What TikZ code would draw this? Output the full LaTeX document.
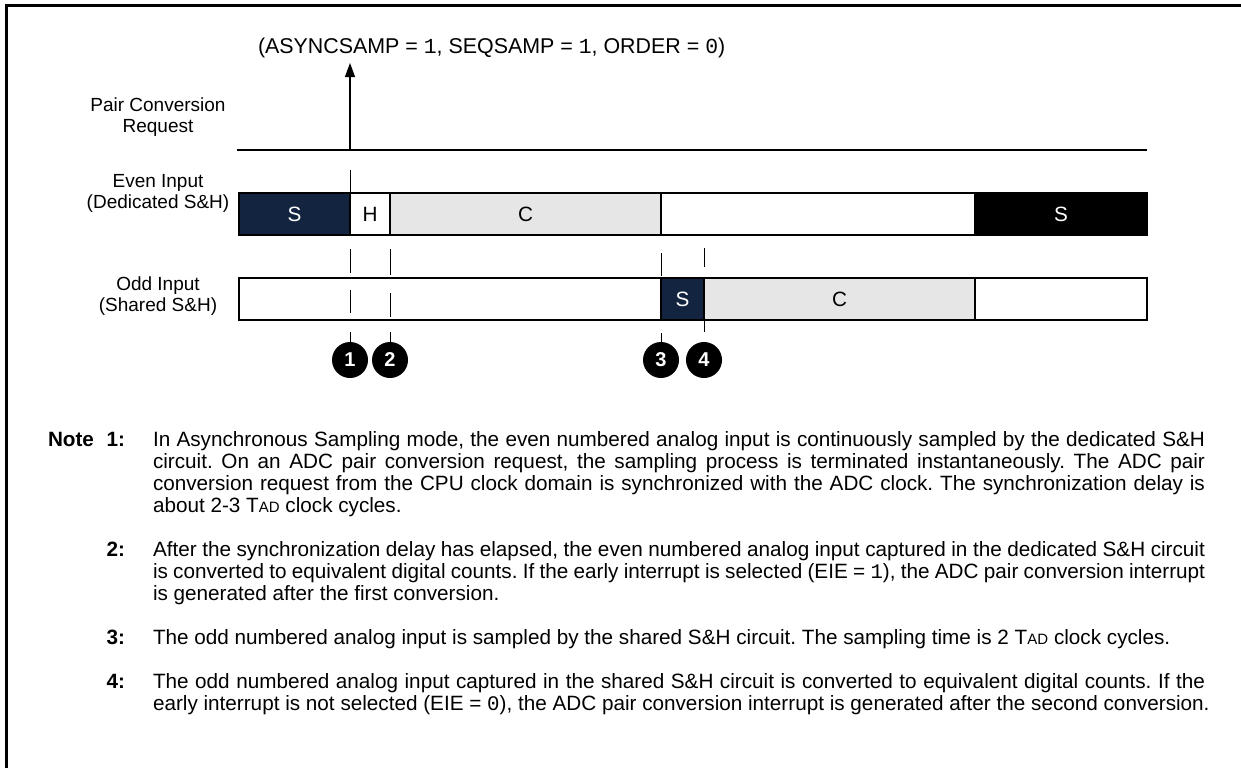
\documentclass[tikz,border=0pt]{standalone}
\usepackage{fontspec}
\setmainfont{Liberation Sans}
\newfontfamily\monofont{Liberation Mono}
\usetikzlibrary{arrows.meta}
\definecolor{navy}{RGB}{18,36,64}
\definecolor{convgray}{RGB}{230,230,230}
\newcommand\mono[1]{{\monofont #1}}
\newcommand\tad{T{\fontsize{15}{16}\selectfont AD}}
\newcommand\fullline[1]{\makebox[1052pt][s]{#1}}
\frenchspacing

\begin{document}
\begin{tikzpicture}[x=1pt,y=-1pt,
  every node/.style={font=\fontsize{20.7}{21}\selectfont, inner sep=0pt, outer sep=0pt},
  seg/.style={draw=black, line width=1.5pt, minimum height=42pt, anchor=north west},
  darkseg/.style={seg, fill=navy, text=white},
  blackseg/.style={seg, fill=black, text=white},
  convseg/.style={seg, fill=convgray},
  idleseg/.style={seg, fill=white},
  marker/.style={circle, fill=black, minimum size=36pt, text=white,
                 font=\bfseries\fontsize{20}{20}\selectfont},
  guide/.style={line width=1pt},
  rowlabel/.style={align=center, anchor=center, font=\fontsize{19}{21}\selectfont},
  notelabel/.style={anchor=base east, font=\bfseries\fontsize{20.7}{22}\selectfont},
  notetext/.style={anchor=base west}]
\useasboundingbox (0,0) rectangle (1241,768);

% frame
\draw[line width=3pt] (6.5,768) -- (6.5,5.5) -- (1241,5.5);

% mode settings
\node[anchor=base west, font=\fontsize{21.4}{22}\selectfont] (mode) at (258,54)
  {(ASYNCSAMP = \mono{1}, SEQSAMP = \mono{1}, ORDER = \mono{0})};

% row labels
\node[rowlabel] (lblreq) at (158,117) {Pair Conversion\\Request};
\node[rowlabel] (lbleven) at (158,193.5) {Even Input\\(Dedicated S\&H)};
\node[rowlabel] (lblodd) at (158,296.5) {Odd Input\\(Shared S\&H)};

% conversion request line and trigger arrow
\coordinate (rqL) at (237,150);
\coordinate (rqR) at (1147,150);
\coordinate (rqA) at (350,150);
\coordinate (rqTip) at (350,63);
\draw[line width=1.2pt] (rqL) -- (rqR);
\draw[line width=1.2pt, -{Triangle[width=10pt,length=14pt]}] (rqA) -- (rqTip);

% even input (dedicated S&H)
\node[darkseg,  minimum width=111pt] (evS)  at (239,193) {S};
\node[idleseg,  minimum width=40pt]  (evH)  at (350,193) {H};
\node[convseg,  minimum width=271pt] (evC)  at (390,193) {C};
\node[idleseg,  minimum width=314pt] (evI)  at (661,193) {};
\node[blackseg, minimum width=172pt] (evS2) at (975,193) {S};

% odd input (shared S&H)
\node[idleseg,  minimum width=422pt] (odI)  at (239,278) {};
\node[darkseg,  minimum width=43pt]  (odS)  at (661,278) {S};
\node[convseg,  minimum width=271pt] (odC)  at (704,278) {C};
\node[idleseg,  minimum width=172pt] (odI2) at (975,278) {};

% event guides
\draw[guide] (350,170) -- (350,193);
\draw[guide] (350,249) -- (350,273);
\draw[guide] (350,290) -- (350,313);
\draw[guide] (350,332) -- (350,342);
\draw[guide] (390,249) -- (390,275);
\draw[guide] (390,293) -- (390,317);
\draw[guide] (390,332) -- (390,342);
\draw[guide] (661,253) -- (661,276);
\draw[guide] (661,333) -- (661,342);
\draw[guide] (704,248) -- (704,267);
\draw[guide] (704,320) -- (704,332);

% event markers
\node[marker] (m1) at (350,360) {1};
\node[marker] (m2) at (390,360) {2};
\node[marker] (m3) at (661,360) {3};
\node[marker] (m4) at (704,360) {4};

% notes
\node[anchor=base west, font=\bfseries\fontsize{20.7}{22}\selectfont] (notehd) at (48,446) {Note};
\node[notelabel] (n1) at (125,446) {1:};
\node[notetext] (n1a) at (153,446) {\fullline{In Asynchronous Sampling mode, the even numbered analog input is continuously sampled by the dedicated S\&H}};
\node[notetext] (n1b) at (153,468) {\fullline{circuit. On an ADC pair conversion request, the sampling process is terminated instantaneously. The ADC pair}};
\node[notetext] (n1c) at (153,490) {\fullline{conversion request from the CPU clock domain is synchronized with the ADC clock. The synchronization delay is}};
\node[notetext] (n1d) at (153,512) {about 2-3 \tad{} clock cycles.};

\node[notelabel] (n2) at (125,556) {2:};
\node[notetext] (n2a) at (153,556) {\fullline{After the synchronization delay has elapsed, the even numbered analog input captured in the dedicated S\&H circuit}};
\node[notetext] (n2b) at (153,578) {\fullline{is converted to equivalent digital counts. If the early interrupt is selected (EIE = \mono{1}), the ADC pair conversion interrupt}};
\node[notetext] (n2c) at (153,600) {is generated after the first conversion.};

\node[notelabel] (n3) at (125,644) {3:};
\node[notetext] (n3a) at (153,644) {The odd numbered analog input is sampled by the shared S\&H circuit. The sampling time is 2 \tad{} clock cycles.};

\node[notelabel] (n4) at (125,688) {4:};
\node[notetext] (n4a) at (153,688) {\fullline{The odd numbered analog input captured in the shared S\&H circuit is converted to equivalent digital counts. If the}};
\node[notetext] (n4b) at (153,710) {early interrupt is not selected (EIE = \mono{0}), the ADC pair conversion interrupt is generated after the second conversion.};
\end{tikzpicture}
\end{document}
